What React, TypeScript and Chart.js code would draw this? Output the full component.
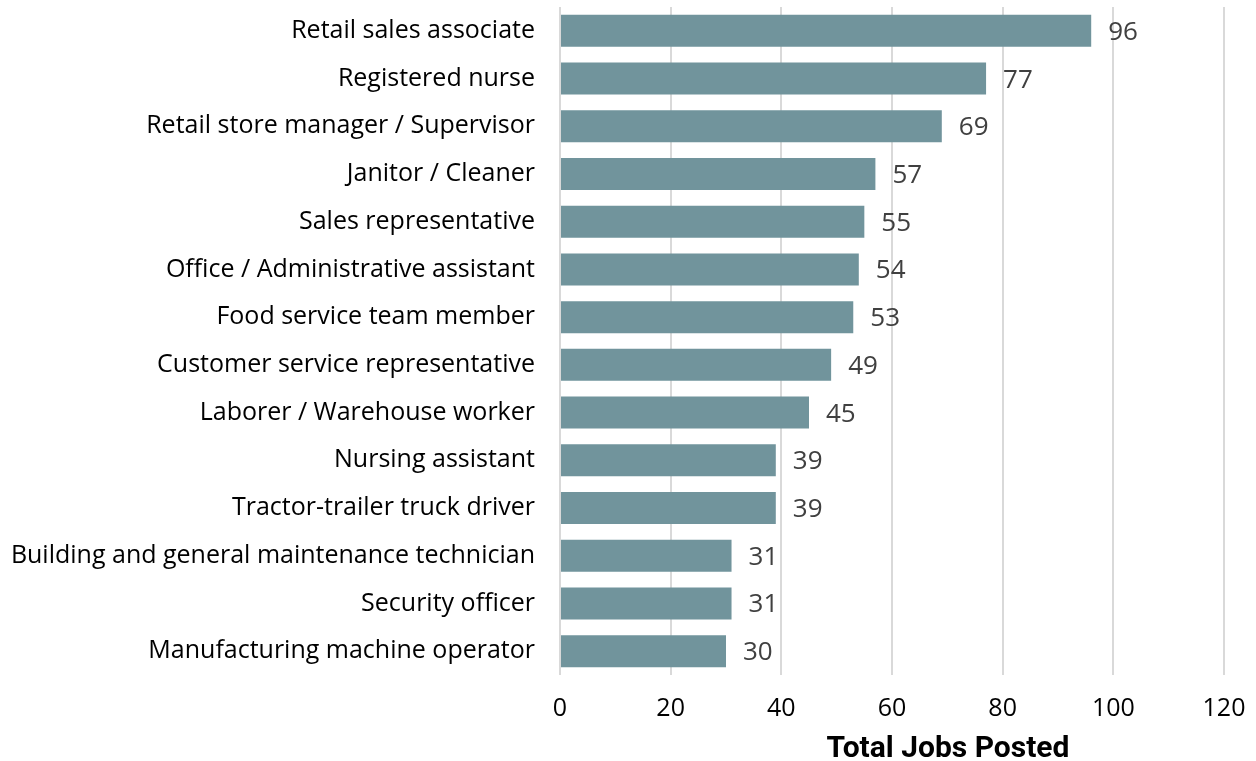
import React, { useEffect, useRef } from "react";
import { Chart, registerables } from "chart.js";

Chart.register(...registerables);

const categories = [
  "Retail sales associate",
  "Registered nurse",
  "Retail store manager / Supervisor",
  "Janitor / Cleaner",
  "Sales representative",
  "Office / Administrative assistant",
  "Food service team member",
  "Customer service representative",
  "Laborer / Warehouse worker",
  "Nursing assistant",
  "Tractor-trailer truck driver",
  "Building and general maintenance technician",
  "Security officer",
  "Manufacturing machine operator",
];

const jobsPosted = [96, 77, 69, 57, 55, 54, 53, 49, 45, 39, 39, 31, 31, 30];

const xTicks = [0, 20, 40, 60, 80, 100, 120];

const axisTitle = "Total Jobs Posted";

const LABEL_FONT = "'Open Sans', sans-serif";

const valueLabels = {
  id: "valueLabels",
  afterDatasetsDraw(chart: any) {
    const ctx = chart.ctx;
    const meta = chart.getDatasetMeta(0);
    ctx.save();
    ctx.font = "26px 'Open Sans', sans-serif";
    ctx.fillStyle = "#404040";
    ctx.textAlign = "left";
    ctx.textBaseline = "alphabetic";
    meta.data.forEach((bar: any, i: number) => {
      ctx.fillText(String(jobsPosted[i]), bar.x + 17, bar.y + 9);
    });
    ctx.restore();
  },
};

const axisTitlePlugin = {
  id: "axisTitlePlugin",
  afterDraw(chart: any) {
    const ctx = chart.ctx;
    ctx.save();
    ctx.font = "bold 30px Roboto, sans-serif";
    ctx.fillStyle = "#000000";
    ctx.textAlign = "center";
    ctx.textBaseline = "alphabetic";
    ctx.fillText(axisTitle, 948, 757);
    ctx.restore();
  },
};

export default function App() {
  const ref = useRef<HTMLCanvasElement | null>(null);

  useEffect(() => {
    if (!ref.current) return;
    const chart = new Chart(ref.current, {
      type: "bar",
      data: {
        labels: categories,
        datasets: [
          {
            data: jobsPosted,
            backgroundColor: "#71949c",
            borderWidth: 0,
            categoryPercentage: 1,
            barPercentage: 0.67,
          },
        ],
      },
      options: {
        indexAxis: "y",
        animation: false,
        responsive: false,
        maintainAspectRatio: false,
        layout: { padding: { top: 7, right: 32, left: 0, bottom: 0 } },
        plugins: {
          legend: { display: false },
          tooltip: { enabled: false },
          title: { display: false },
        },
        scales: {
          x: {
            min: 0,
            max: 120,
            afterBuildTicks(scale: any) {
              scale.ticks = xTicks.map((v) => ({ value: v }));
            },
            afterFit(scale: any) {
              scale.height = 86;
              scale.paddingLeft = 0;
              scale.paddingRight = 0;
            },
            grid: {
              color: "#d9d9d9",
              lineWidth: 2,
              drawTicks: false,
            },
            border: { display: false },
            ticks: {
              padding: 19,
              color: "#000000",
              font: { family: LABEL_FONT, size: 25 },
            },
          },
          y: {
            afterFit(scale: any) {
              scale.width = 560;
              scale.paddingTop = 0;
              scale.paddingBottom = 0;
            },
            grid: { display: false, drawTicks: false },
            border: { display: false },
            ticks: {
              padding: 25,
              color: "#000000",
              font: { family: LABEL_FONT, size: 25 },
              autoSkip: false,
            },
          },
        },
      },
      plugins: [valueLabels, axisTitlePlugin],
    });
    return () => chart.destroy();
  }, []);

  return (
    <div style={{ position: "absolute", left: 0, top: 0, width: 1256, height: 761, background: "#fff" }}>
      <canvas ref={ref} width={1256} height={761} style={{ width: 1256, height: 761, display: "block" }} />
    </div>
  );
}
